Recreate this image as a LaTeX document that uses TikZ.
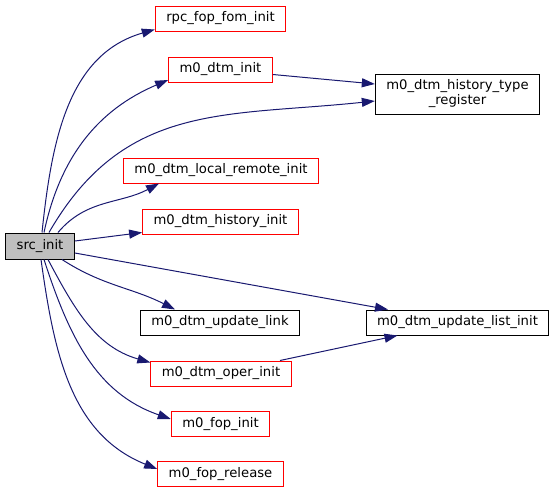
\documentclass[tikz,border=0pt]{standalone}
\usepackage{fontspec}
\setmainfont{DejaVu Sans}
\usetikzlibrary{arrows.meta}
\definecolor{edgeblue}{HTML}{191970}
\definecolor{fngray}{HTML}{BFBFBF}

\begin{document}
\begin{tikzpicture}[x=1pt, y=1pt, >={Triangle[length=13pt,width=9pt]},
    every node/.style={font=\fontsize{13.2}{15}\selectfont},
    fn/.style={draw=red, fill=white, line width=1pt, minimum height=25pt, inner xsep=11pt, inner ysep=2pt},
    fnok/.style={fn, draw=black},
    call/.style={->, edgeblue, line width=1pt}]
      \useasboundingbox (0,0) rectangle (555,-493);
      \node[fnok, fill=fngray, minimum height=26pt] (src) at (40,-246) {src\_init};
      \node[fn] (rpc) at (220.5,-18.5) {rpc\_fop\_fom\_init};
      \node[fn] (dtm) at (220.5,-69.5) {m0\_dtm\_init};
      \node[fnok, align=center, minimum height=40pt] (reg) at (457.5,-94) {m0\_dtm\_history\_type\\\_register};
      \node[fn] (lrem) at (221,-170.5) {m0\_dtm\_local\_remote\_init};
      \node[fn] (hist) at (220.5,-221.5) {m0\_dtm\_history\_init};
      \node[fnok] (ulink) at (220,-322.5) {m0\_dtm\_update\_link};
      \node[fnok] (ulist) at (457.5,-322.5) {m0\_dtm\_update\_list\_init};
      \node[fn] (oper) at (221,-373.5) {m0\_dtm\_oper\_init};
      \node[fn] (fopi) at (220.5,-424) {m0\_fop\_init};
      \node[fn] (frel) at (220.5,-474) {m0\_fop\_release};
      \draw[call] ([xshift=2pt]src.north) to[out=84, in=196] ([yshift=-11pt]rpc.west);
      \draw[call] ([xshift=4pt]src.north) to[out=78, in=203] ([yshift=-10.5pt]dtm.west);
      \draw[call] ([xshift=9pt]src.north) to[out=60, in=186, looseness=1.1] ([yshift=-7pt]reg.west);
      \draw[call] ([yshift=-5pt]dtm.east) -- ([yshift=10pt]reg.west);
      \draw[call] ([xshift=18pt]src.north) to[out=50, in=208] ([xshift=-62pt]lrem.south);
      \draw[call] ([yshift=5pt]src.east) -- ([yshift=-11pt]hist.west);
      \draw[call] ([yshift=-7pt]src.east) -- ([xshift=-69.5pt]ulist.north);
      \draw[call] ([xshift=22pt]src.south) to[out=-33, in=153] ([xshift=-45pt]ulink.north);
      \draw[call] ([xshift=8pt]src.south) to[out=-62, in=164] ([yshift=11pt]oper.west);
      \draw[call] ([xshift=4pt]src.south) to[out=-72, in=161] ([yshift=5pt]fopi.west);
      \draw[call] ([xshift=1pt]src.south) to[out=-82, in=158] ([yshift=5pt]frel.west);
      \draw[call] ([xshift=59pt]oper.north) -- ([xshift=-60pt]ulist.south);
    \end{tikzpicture}
\end{document}
